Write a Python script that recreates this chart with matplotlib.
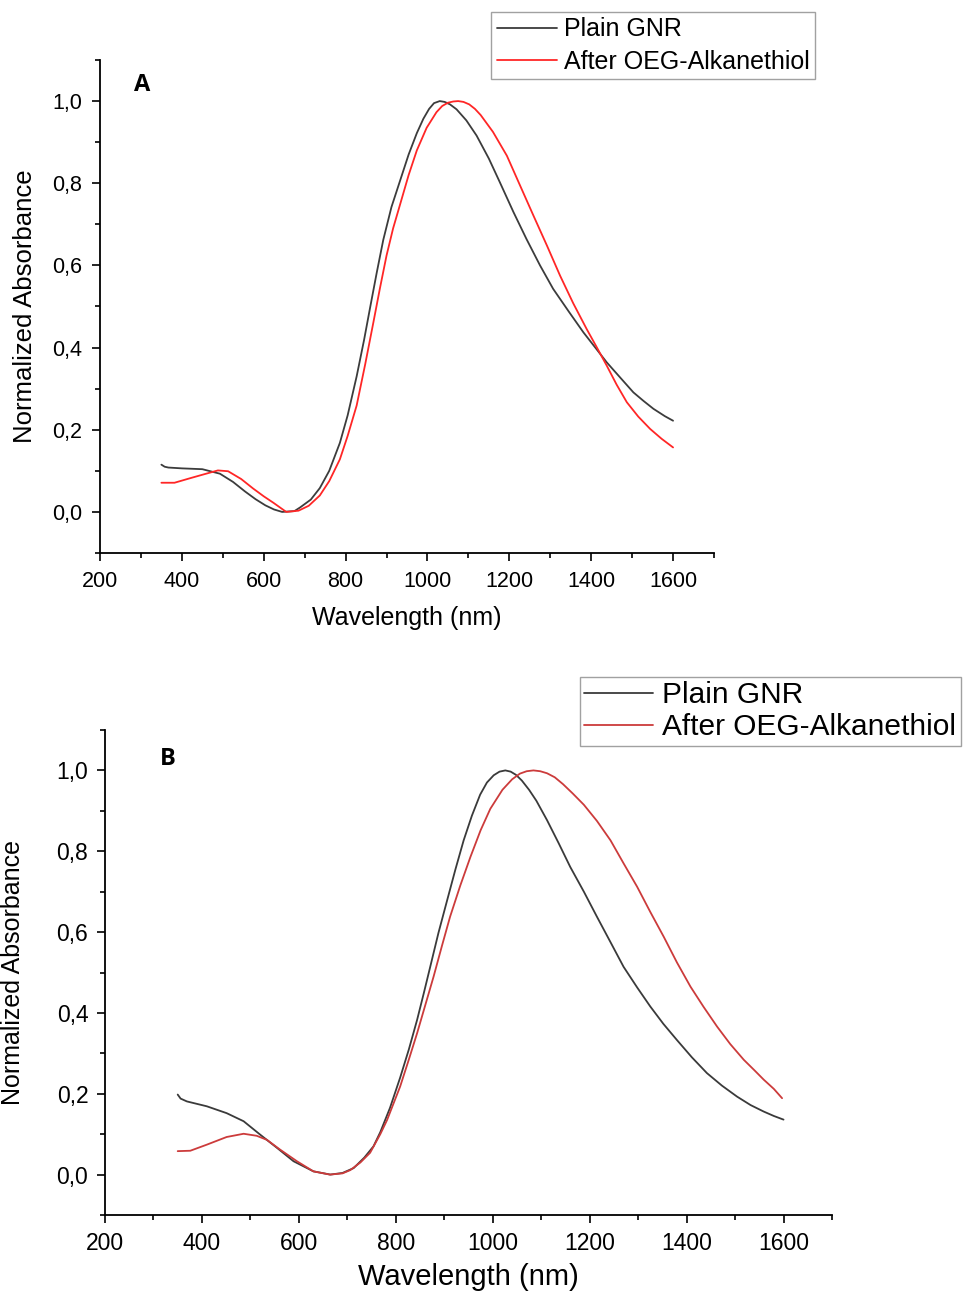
import matplotlib
matplotlib.use("Agg")
import matplotlib.pyplot as plt
from matplotlib.ticker import MultipleLocator

plt.rcParams['font.family'] = ['Liberation Sans', 'DejaVu Sans']

# ---- panel A data (wavelength nm, normalized absorbance) ----
a_plain_x = [350, 358, 367, 400, 450, 493, 525, 554, 580, 604, 625, 645, 675, 689, 715, 737, 760,
             786, 805, 827, 845, 860, 876, 892, 912, 933, 954, 974, 990, 1004, 1016, 1030, 1042,
             1055, 1071, 1095, 1120, 1150, 1177, 1210, 1242, 1275, 1307, 1345, 1381, 1410, 1438,
             1470, 1503, 1528, 1552, 1580, 1600]
a_plain_y = [0.115, 0.110, 0.108, 0.106, 0.104, 0.093, 0.073, 0.050, 0.031, 0.016, 0.006, 0.0,
             0.002, 0.011, 0.030, 0.058, 0.100, 0.168, 0.235, 0.330, 0.418, 0.498, 0.582, 0.662,
             0.742, 0.806, 0.870, 0.922, 0.957, 0.981, 0.995, 1.0, 0.998, 0.992, 0.980, 0.953,
             0.916, 0.860, 0.802, 0.730, 0.664, 0.600, 0.543, 0.488, 0.437, 0.400, 0.364, 0.328,
             0.291, 0.270, 0.251, 0.233, 0.222]

a_oeg_x = [350, 382, 420, 452, 488, 513, 545, 574, 600, 624, 655, 685, 710, 737, 760, 786, 805,
           827, 848, 868, 884, 900, 916, 933, 954, 974, 998, 1022, 1036, 1050, 1063, 1075, 1088,
           1102, 1116, 1130, 1160, 1194, 1226, 1259, 1292, 1324, 1356, 1389, 1414, 1438, 1462,
           1487, 1515, 1544, 1572, 1600]
a_oeg_y = [0.071, 0.071, 0.082, 0.091, 0.101, 0.099, 0.080, 0.057, 0.038, 0.022, 0.0, 0.003,
           0.015, 0.040, 0.075, 0.128, 0.185, 0.259, 0.360, 0.462, 0.545, 0.624, 0.690, 0.748,
           0.820, 0.880, 0.935, 0.973, 0.988, 0.996, 0.999, 1.0, 0.998, 0.992, 0.981, 0.966,
           0.925, 0.867, 0.795, 0.721, 0.648, 0.575, 0.508, 0.445, 0.400, 0.356, 0.310, 0.267,
           0.232, 0.202, 0.178, 0.157]

# ---- panel B data ----
b_plain_x = [350, 356, 369, 410, 451, 486, 520, 555, 589, 630, 665, 690, 713, 735, 754, 768,
             788, 809, 827, 844, 858, 871, 888, 906, 923, 940, 957, 974, 988, 1002, 1014, 1026,
             1037, 1048, 1060, 1075, 1090, 1112, 1136, 1160, 1188, 1215, 1243, 1270, 1298, 1325,
             1352, 1380, 1411, 1442, 1473, 1504, 1532, 1559, 1580, 1600]
b_plain_y = [0.198, 0.188, 0.181, 0.169, 0.152, 0.132, 0.099, 0.066, 0.033, 0.008, 0.0, 0.004,
             0.016, 0.042, 0.070, 0.105, 0.165, 0.240, 0.310, 0.383, 0.450, 0.514, 0.598, 0.679,
             0.755, 0.827, 0.888, 0.940, 0.970, 0.988, 0.997, 1.0, 0.997, 0.989, 0.975, 0.952,
             0.925, 0.877, 0.820, 0.761, 0.700, 0.638, 0.575, 0.514, 0.463, 0.416, 0.373, 0.333,
             0.290, 0.251, 0.220, 0.193, 0.172, 0.156, 0.145, 0.136]

b_oeg_x = [350, 376, 410, 451, 486, 513, 534, 561, 596, 630, 664, 690, 706, 727, 747, 768, 782,
           809, 827, 844, 861, 878, 895, 912, 933, 954, 975, 995, 1020, 1040, 1056, 1070, 1084,
           1098, 1112, 1128, 1145, 1165, 1188, 1215, 1243, 1270, 1298, 1325, 1353, 1380, 1408,
           1435, 1463, 1490, 1518, 1540, 1559, 1580, 1597]
b_oeg_y = [0.058, 0.059, 0.074, 0.093, 0.101, 0.096, 0.086, 0.062, 0.033, 0.008, 0.0, 0.003,
           0.011, 0.030, 0.054, 0.100, 0.135, 0.218, 0.285, 0.350, 0.420, 0.490, 0.565, 0.638,
           0.715, 0.786, 0.852, 0.905, 0.952, 0.978, 0.992, 0.998, 1.0, 0.998, 0.993, 0.983,
           0.966, 0.943, 0.915, 0.875, 0.827, 0.770, 0.712, 0.650, 0.588, 0.525, 0.465, 0.415,
           0.366, 0.323, 0.284, 0.258, 0.235, 0.212, 0.189]

series_names = ["Plain GNR", "After OEG-Alkanethiol"]
x_ticks = [200, 400, 600, 800, 1000, 1200, 1400, 1600]
y_ticks = [0.0, 0.2, 0.4, 0.6, 0.8, 1.0]
y_ticklabels = ["0,0", "0,2", "0,4", "0,6", "0,8", "1,0"]

fig = plt.figure(figsize=(9.63, 12.93), dpi=100)
W, H = 963, 1293


def px_axes(left, top, right, bottom):
    return fig.add_axes([left / W, 1 - bottom / H, (right - left) / W, (bottom - top) / H])


def style_axes(ax, tick_fs, xlab_fs, ylab_fs, xlab_y, ylab_x, tpad):
    ax.set_xlim(200, 1700)
    ax.set_ylim(-0.1, 1.1)
    ax.spines['top'].set_visible(False)
    ax.spines['right'].set_visible(False)
    for s in ['left', 'bottom']:
        ax.spines[s].set_linewidth(1.3)
    ax.set_xticks(x_ticks)
    ax.set_yticks(y_ticks)
    ax.set_yticklabels(y_ticklabels)
    ax.xaxis.set_minor_locator(MultipleLocator(100))
    ax.yaxis.set_minor_locator(MultipleLocator(0.1))
    ax.tick_params(which='major', direction='out', length=6, width=1.2, labelsize=tick_fs, pad=tpad)
    ax.tick_params(which='minor', direction='out', length=3.5, width=1.2)
    ax.set_xlabel("Wavelength (nm)", fontsize=xlab_fs, va='center')
    ax.set_ylabel("Normalized Absorbance", fontsize=ylab_fs, va='center')
    ax.xaxis.set_label_coords(0.5, xlab_y)
    ax.yaxis.set_label_coords(ylab_x, 0.5)


line_kw = dict(lw=1.3, solid_joinstyle='round', solid_capstyle='round')

# ---- panel A ----
axA = px_axes(100, 60, 714, 553)
lA1, = axA.plot(a_plain_x, a_plain_y, color="#3c3c3c", label=series_names[0], **line_kw)
lA2, = axA.plot(a_oeg_x, a_oeg_y, color="#ff2626", label=series_names[1], **line_kw)
style_axes(axA, 15.5, 18, 18.5, (553 - 618) / 493, (25 - 100) / 614, 7)
axA.text(0.055, 0.95, "A", transform=axA.transAxes, fontsize=17, fontweight='bold',
         family='Open Sans', va='center', ha='left')
fig.legend(handles=[lA1, lA2], loc='upper left', bbox_to_anchor=(491 / W, 1 - 12 / H),
           fontsize=18, frameon=True, fancybox=False, edgecolor='#8a8a8a',
           handlelength=2.4, handletextpad=0.3, borderpad=0.22, labelspacing=0.33,
           borderaxespad=0)

# ---- panel B ----
axB = px_axes(105, 730, 832, 1215)
lB1, = axB.plot(b_plain_x, b_plain_y, color="#3a3a3a", label=series_names[0], **line_kw)
lB2, = axB.plot(b_oeg_x, b_oeg_y, color="#cc3b3b", label=series_names[1], **line_kw)
style_axes(axB, 16.5, 21, 18, (1215 - 1277) / 485, (13 - 105) / 727, 6)
axB.text(0.075, 0.94, "B", transform=axB.transAxes, fontsize=17, fontweight='bold',
         family='Open Sans', va='center', ha='left')
fig.legend(handles=[lB1, lB2], loc='upper left', bbox_to_anchor=(580 / W, 1 - 677 / H),
           fontsize=21.5, frameon=True, fancybox=False, edgecolor='#8a8a8a',
           handlelength=2.3, handletextpad=0.3, borderpad=0.15, labelspacing=0.12,
           borderaxespad=0)

fig.savefig("out.png", dpi=100)
